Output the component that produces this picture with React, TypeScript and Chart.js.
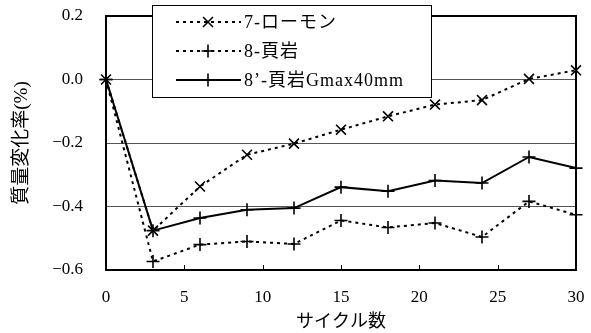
import React, { useEffect, useRef } from 'react';
import { Chart, registerables } from 'chart.js';

Chart.register(...registerables);

// Mass change rate (%) versus number of cycles
const cycles = [0, 3, 6, 9, 12, 15, 18, 21, 24, 27, 30];
const lomonValues = [0, -0.476, -0.337, -0.237, -0.202, -0.158, -0.116, -0.079, -0.065, 0.002, 0.029];
const shaleValues = [0, -0.573, -0.52, -0.51, -0.518, -0.444, -0.466, -0.452, -0.496, -0.384, -0.426];
const shaleG40Values = [0, -0.476, -0.436, -0.41, -0.405, -0.339, -0.352, -0.318, -0.326, -0.244, -0.279];
const seriesLabels = ['7-ローモン', '8-頁岩', '8’-頁岩Gmax40mm'];
const xTickValues = [0, 5, 10, 15, 20, 25, 30];
const yTickValues = [0.2, 0, -0.2, -0.4, -0.6];
const xTitle = 'サイクル数';
const yTitle = '質量変化率(%)';

const FONT = "'Liberation Serif', 'DejaVu Serif', 'Noto Sans CJK JP', serif";
const TICK_SIZE = 17;
const TITLE_SIZE = 18;

const toPoints = (vals: number[]) => cycles.map((c, i) => ({ x: c, y: vals[i] }));

const fmtY = (v: number) => {
  const s = Math.abs(v).toFixed(1);
  return v < -1e-9 ? '−' + s : s;
};

function drawMarker(ctx: CanvasRenderingContext2D, style: string, x: number, y: number, r: number) {
  ctx.beginPath();
  if (style === 'crossRot') {
    const d = r * Math.SQRT1_2;
    ctx.moveTo(x - d, y - d);
    ctx.lineTo(x + d, y + d);
    ctx.moveTo(x - d, y + d);
    ctx.lineTo(x + d, y - d);
  } else {
    ctx.moveTo(x - r, y);
    ctx.lineTo(x + r, y);
    ctx.moveTo(x, y - r);
    ctx.lineTo(x, y + r);
  }
  ctx.stroke();
}

// Frame around the plot area plus short inward ticks on the x axis
const framePlugin = {
  id: 'frame',
  beforeDatasetsDraw(chart: any) {
    const { ctx, chartArea: a, scales } = chart;
    ctx.save();
    ctx.strokeStyle = '#000';
    ctx.lineWidth = 1;
    const xs = scales.x;
    xTickValues.slice(1, -1).forEach((v) => {
      const px = Math.round(xs.getPixelForValue(v)) + 0.5;
      ctx.beginPath();
      ctx.moveTo(px, a.bottom);
      ctx.lineTo(px, a.bottom - 5);
      ctx.stroke();
    });
    ctx.lineWidth = 2;
    ctx.strokeRect(a.left, a.top, a.right - a.left, a.bottom - a.top);
    ctx.restore();
  },
};

// Boxed legend drawn over the top of the plot
const legendPlugin = {
  id: 'boxLegend',
  afterDatasetsDraw(chart: any) {
    const { ctx } = chart;
    const box = { x: 152, y: 5, w: 279, h: 92 };
    ctx.save();
    ctx.fillStyle = '#fff';
    ctx.fillRect(box.x, box.y, box.w, box.h);
    ctx.strokeStyle = '#000';
    ctx.lineWidth = 1;
    ctx.strokeRect(box.x + 0.5, box.y + 0.5, box.w, box.h);
    const rowY = [22, 51, 80];
    chart.data.datasets.forEach((ds: any, i: number) => {
      const y = rowY[i];
      ctx.strokeStyle = '#000';
      ctx.lineWidth = ds.borderWidth;
      ctx.setLineDash(ds.borderDash || []);
      ctx.beginPath();
      ctx.moveTo(176, y);
      ctx.lineTo(241, y);
      ctx.stroke();
      ctx.setLineDash([]);
      ctx.lineWidth = ds.pointBorderWidth;
      drawMarker(ctx, ds.pointStyle, 208, y, ds.pointRadius);
      ctx.fillStyle = '#000';
      ctx.font = `${TITLE_SIZE}px ${FONT}`;
      (ctx as any).letterSpacing = '1px';
      ctx.textBaseline = 'middle';
      ctx.textAlign = 'left';
      ctx.fillText(ds.label, 244, y + 1);
      (ctx as any).letterSpacing = '0px';
    });
    ctx.restore();
  },
};

export default function App() {
  const ref = useRef<HTMLCanvasElement>(null);

  useEffect(() => {
    if (!ref.current) return;
    const chart = new Chart(ref.current, {
      type: 'line',
      data: {
        datasets: [
          {
            label: seriesLabels[0],
            data: toPoints(lomonValues),
            borderColor: '#000',
            borderWidth: 2,
            borderDash: [3, 4],
            pointStyle: 'crossRot',
            pointRadius: 7,
            pointBorderWidth: 1.6,
            pointBorderColor: '#000',
            backgroundColor: '#000',
            clip: false,
          },
          {
            label: seriesLabels[1],
            data: toPoints(shaleValues),
            borderColor: '#000',
            borderWidth: 2,
            borderDash: [3, 4],
            pointStyle: 'cross',
            pointRadius: 6.5,
            pointBorderWidth: 1.6,
            pointBorderColor: '#000',
            backgroundColor: '#000',
            clip: false,
          },
          {
            label: seriesLabels[2],
            data: toPoints(shaleG40Values),
            borderColor: '#000',
            borderWidth: 2,
            pointStyle: 'cross',
            pointRadius: 6.5,
            pointBorderWidth: 1.6,
            pointBorderColor: '#000',
            backgroundColor: '#000',
            clip: false,
          },
        ] as any,
      },
      options: {
        responsive: false,
        animation: false,
        events: [],
        layout: { padding: { top: 16, right: 15, left: 0, bottom: 0 } },
        plugins: {
          legend: { display: false },
          tooltip: { enabled: false },
        },
        scales: {
          x: {
            type: 'linear',
            min: 0,
            max: 30,
            afterFit: (s: any) => {
              s.height = 63;
            },
            afterBuildTicks: (s: any) => {
              s.ticks = xTickValues.map((v) => ({ value: v }));
            },
            // invisible tick length keeps labels off the axis without padding the chart area
            grid: { drawOnChartArea: false, drawTicks: true, tickLength: 17, tickColor: 'rgba(0,0,0,0)' },
            border: { display: false },
            ticks: {
              padding: 0,
              color: '#000',
              font: { family: FONT, size: TICK_SIZE },
              maxRotation: 0,
              callback: (v: any) => String(v),
            },
            title: {
              display: true,
              text: xTitle,
              color: '#000',
              font: { family: FONT, size: TITLE_SIZE },
              padding: { top: 0, bottom: 0 },
            },
          },
          y: {
            type: 'linear',
            min: -0.6,
            max: 0.2,
            afterFit: (s: any) => {
              s.width = 106;
            },
            afterBuildTicks: (s: any) => {
              s.ticks = yTickValues.map((v) => ({ value: v }));
            },
            grid: { color: '#555', lineWidth: 1, drawTicks: true, tickLength: 23, tickColor: 'rgba(0,0,0,0)' },
            border: { display: false },
            ticks: {
              padding: 0,
              color: '#000',
              font: { family: FONT, size: TICK_SIZE },
              callback: (v: any) => fmtY(Number(v)),
            },
            title: {
              display: true,
              text: yTitle,
              color: '#000',
              font: { family: FONT, size: 19 },
              padding: { top: 11, bottom: 0 },
            },
          },
        },
      } as any,
      plugins: [framePlugin, legendPlugin],
    });
    return () => chart.destroy();
  }, []);

  return (
    <div style={{ position: 'absolute', left: 0, top: 0, width: 591, height: 333, background: '#fff' }}>
      <canvas ref={ref} width={591} height={333} style={{ display: 'block' }} />
    </div>
  );
}
